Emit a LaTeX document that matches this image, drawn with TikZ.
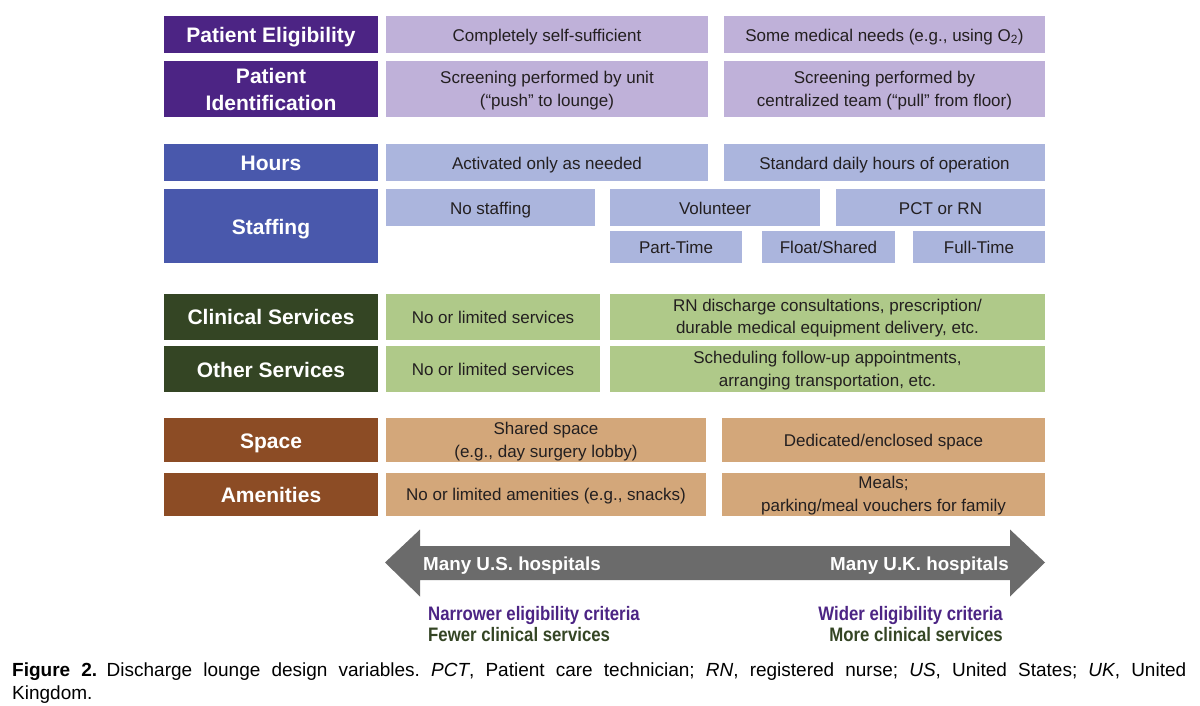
\documentclass[tikz,border=0pt]{standalone}
\usepackage{fontspec}
\setmainfont{Liberation Sans}
\newfontfamily\condfont[FakeStretch=0.86]{Liberation Sans}

\definecolor{purpleD}{RGB}{76,36,132}
\definecolor{purpleL}{RGB}{191,177,217}
\definecolor{blueD}{RGB}{73,88,172}
\definecolor{blueL}{RGB}{171,181,221}
\definecolor{greenD}{RGB}{52,69,36}
\definecolor{greenL}{RGB}{175,201,137}
\definecolor{brownD}{RGB}{140,76,37}
\definecolor{brownL}{RGB}{211,167,122}
\definecolor{arrowgray}{RGB}{107,107,107}
\definecolor{txtdark}{RGB}{35,31,32}

\begin{document}
\begin{tikzpicture}[
        x=1pt, y=-1pt,
        hdr/.style={rectangle, fill=#1, text=white, minimum width=214, inner sep=0,
            align=center, text height=16pt, text depth=0pt,
            font=\fontsize{21}{27}\selectfont\bfseries},
        opt/.style={rectangle, fill=#1, text=txtdark, inner sep=0,
            align=center, text height=13.4pt, text depth=0pt,
            font=\fontsize{17}{22.5}\selectfont},
        two/.style={text height={}, text depth=0pt},
        lbl/.style={inner sep=0, text=#1, font=\condfont\fontsize{19.5}{22}\selectfont\bfseries},
        bigarrow/.style={fill=arrowgray, draw=none}
    ]
    \useasboundingbox[fill=white] (0,0) rectangle (1200,706);

    % patient rows
    \node[hdr=purpleD, minimum height=37] (elig) at (271,34.5) {Patient Eligibility};
    \node[opt=purpleL, minimum width=322, minimum height=37] (eligA) at (547,34.5) {Completely self-sufficient};
    \node[opt=purpleL, minimum width=321, minimum height=37] (eligB) at (884.5,34.5) {Some medical needs (e.g., using O\textsubscript{2})};

    \node[hdr=purpleD, two, minimum height=56] (ident) at (271,89) {Patient\\Identification};
    \node[opt=purpleL, two, minimum width=322, minimum height=56] (identA) at (547,89) {Screening performed by unit\\(“push” to lounge)};
    \node[opt=purpleL, two, minimum width=321, minimum height=56] (identB) at (884.5,89) {Screening performed by\\centralized team (“pull” from floor)};

    % hours and staffing
    \node[hdr=blueD, minimum height=37] (hours) at (271,163) {Hours};
    \node[opt=blueL, minimum width=322, minimum height=37] (hoursA) at (547,163) {Activated only as needed};
    \node[opt=blueL, minimum width=321, minimum height=37] (hoursB) at (884.5,163) {Standard daily hours of operation};

    \node[hdr=blueD, minimum height=74] (staff) at (271,226) {Staffing};
    \node[opt=blueL, minimum width=209, minimum height=37] (none) at (490.5,207.5) {No staffing};
    \node[opt=blueL, minimum width=210, minimum height=37] (volun) at (715,207.5) {Volunteer};
    \node[opt=blueL, minimum width=209, minimum height=37] (pct) at (940.5,207.5) {PCT or RN};
    \node[opt=blueL, minimum width=132, minimum height=32] (part) at (676,247) {Part-Time};
    \node[opt=blueL, minimum width=133, minimum height=32] (float) at (828.5,247) {Float/Shared};
    \node[opt=blueL, minimum width=132, minimum height=32] (full) at (979,247) {Full-Time};

    % services
    \node[hdr=greenD, minimum height=46] (clin) at (271,316.5) {Clinical Services};
    \node[opt=greenL, minimum width=214, minimum height=46] (clinA) at (493,316.5) {No or limited services};
    \node[opt=greenL, two, minimum width=435, minimum height=46] (clinB) at (827.5,316.5) {RN discharge consultations, prescription/\\durable medical equipment delivery, etc.};

    \node[hdr=greenD, minimum height=46] (other) at (271,369) {Other Services};
    \node[opt=greenL, minimum width=214, minimum height=46] (otherA) at (493,369) {No or limited services};
    \node[opt=greenL, two, minimum width=435, minimum height=46] (otherB) at (827.5,369) {Scheduling follow-up appointments,\\arranging transportation, etc.};

    % space and amenities
    \node[hdr=brownD, minimum height=44] (space) at (271,440) {Space};
    \node[opt=brownL, two, minimum width=320, minimum height=44] (spaceA) at (546,440) {Shared space\\(e.g., day surgery lobby)};
    \node[opt=brownL, minimum width=323, minimum height=44] (spaceB) at (883.5,440) {Dedicated/enclosed space};

    \node[hdr=brownD, minimum height=43] (amen) at (271,494) {Amenities};
    \node[opt=brownL, minimum width=320, minimum height=43] (amenA) at (546,494) {No or limited amenities (e.g., snacks)};
    \node[opt=brownL, two, minimum width=323, minimum height=43] (amenB) at (883.5,494) {Meals;\\parking/meal vouchers for family};

    % double arrow
    \fill[bigarrow] (385,562.5) -- (420,529.5) -- (420,546) -- (1010,546) -- (1010,529.5)
        -- (1045,562.5) -- (1010,596.5) -- (1010,580) -- (420,580) -- (420,596.5) -- cycle;
    \node[anchor=base west, inner sep=0, text=white, font=\fontsize{18.8}{22}\selectfont\bfseries] (us) at (423,570.5) {Many U.S. hospitals};
    \node[anchor=base east, inner sep=0, text=white, font=\fontsize{18.8}{22}\selectfont\bfseries] (uk) at (1009,570.5) {Many U.K. hospitals};

    \node[lbl=purpleD, anchor=base west] (narrow) at (428,620) {Narrower eligibility criteria};
    \node[lbl=greenD, anchor=base west] (fewer) at (428,641.5) {Fewer clinical services};
    \node[lbl=purpleD, anchor=base east] (wider) at (1003,620) {Wider eligibility criteria};
    \node[lbl=greenD, anchor=base east] (more) at (1003,641.5) {More clinical services};

    % caption
    \node[anchor=base west, inner sep=0, text width=1174, align=justify, text=black,
        font=\fontsize{19}{23}\selectfont] (caption) at (12,676)
        {\frenchspacing{\bfseries Figure 2.}\enspace Discharge lounge design variables. \textit{PCT}, Patient care technician; \textit{RN}, registered nurse; \textit{US}, United States; \textit{UK}, United\linebreak Kingdom.};
\end{tikzpicture}
\end{document}
